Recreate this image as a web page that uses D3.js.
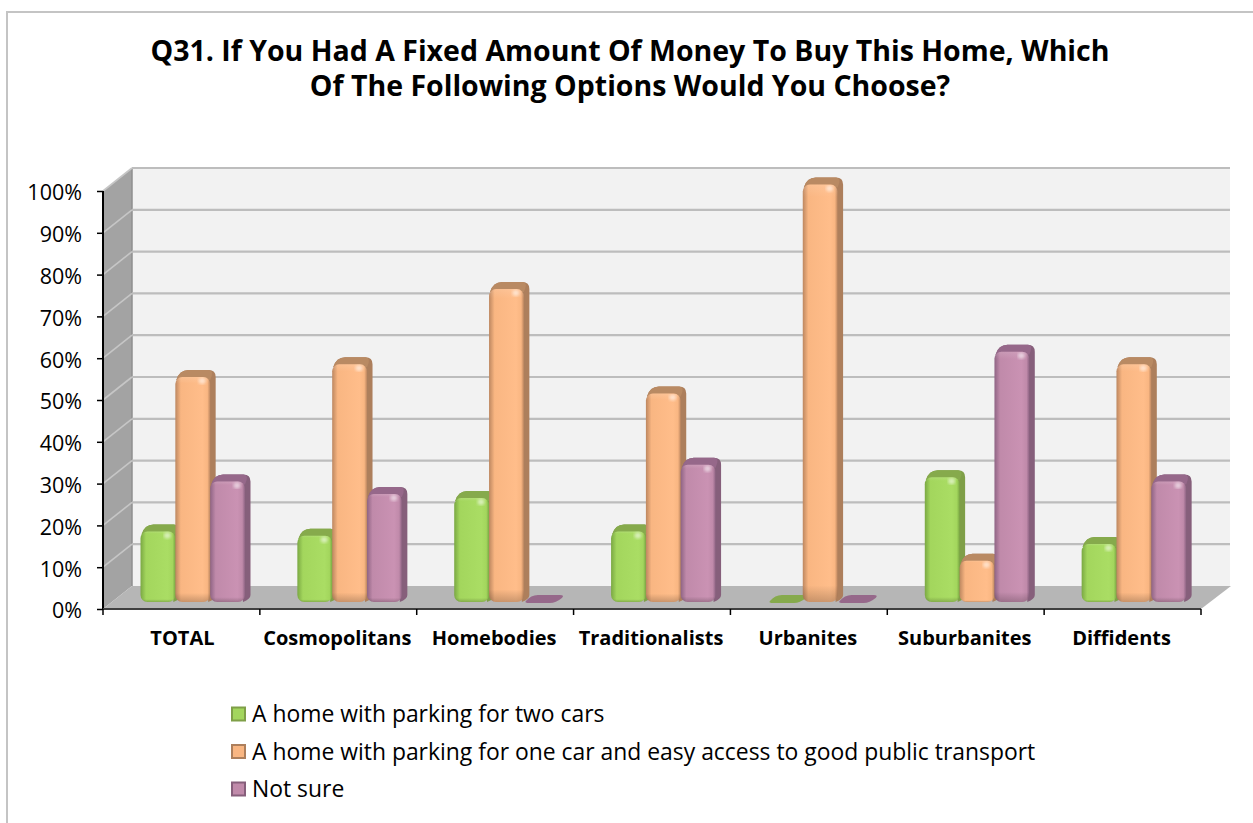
<!DOCTYPE html>
<html><head><meta charset="utf-8">
<script src="https://cdn.jsdelivr.net/npm/d3@7/dist/d3.min.js"></script>
<style>html,body{margin:0;padding:0;background:#fff}svg{display:block}text{font-family:"Open Sans","Noto Sans",sans-serif;fill:#000}</style>
</head><body><svg id="c" width="1253" height="823"></svg>
<script>
const titleLines = ["Q31. If You Had A Fixed Amount Of Money To Buy This Home, Which","Of The Following Options Would You Choose?"];
const categories = ["TOTAL","Cosmopolitans","Homebodies","Traditionalists","Urbanites","Suburbanites","Diffidents"];
const seriesNames = ["A home with parking for two cars","A home with parking for one car and easy access to good public transport","Not sure"];
const twoCars = [17,16,25,17,0,30,14];
const oneCar = [54,57,75,50,100,10,57];
const notSure = [29,26,0,33,0,60,29];
const yTicks = [0,10,20,30,40,50,60,70,80,90,100];
const seriesValues = [twoCars, oneCar, notSure];
const palettes = [
  {edge:"#7aa843",mid:"#a3d65d",light:"#aadd64",top:"#86aa4c",side:"#7f9f48"},
  {edge:"#bd8760",mid:"#f9b682",light:"#ffbd8a",top:"#b98a63",side:"#ad7f5c"},
  {edge:"#8f6484",mid:"#c08aaa",light:"#ca92b3",top:"#96688a",side:"#865f7b"}
];
const svg = d3.select("#c");
const defs = svg.append("defs");
palettes.forEach((p,i)=>{
  const g = defs.append("linearGradient").attr("id","g"+i).attr("x1",0).attr("x2",1).attr("y1",0).attr("y2",0);
  [[0,p.edge],[0.16,p.mid],[0.78,p.light],[0.92,p.mid],[1,p.edge]].forEach(s=>g.append("stop").attr("offset",s[0]).attr("stop-color",s[1]));
});
const vg = defs.append("linearGradient").attr("id","shade").attr("gradientUnits","objectBoundingBox").attr("x1",0).attr("x2",0).attr("y1",0).attr("y2",1);
[[0,"#fff",0.12],[0.03,"#fff",0],[0.96,"#000",0],[1,"#000",0.2]].forEach(s=>vg.append("stop").attr("offset",s[0]).attr("stop-color",s[1]).attr("stop-opacity",s[2]));
defs.append("filter").attr("id","blur").append("feGaussianBlur").attr("stdDeviation",1.8);

// frame
svg.append("path").attr("d","M7,823V12H1253").attr("fill","none").attr("stroke","#c4c4c4").attr("stroke-width",2);

// title
svg.append("g").selectAll("text").data(titleLines).join("text")
  .attr("x",630).attr("y",(d,i)=>61+i*35).attr("text-anchor","middle")
  .attr("font-size",28.5).attr("font-weight",700).text(d=>d);

const x0 = d3.scaleBand().domain(categories).range([103,1201]);
const y = d3.scaleLinear().domain([0,100]).range([609,191]);
const x1 = d3.scaleBand().domain([0,1,2]).range([37.5,142]);
const wallDx = 29, wallDy = -23;
const left = 103, right = 1201;

// side wall, back wall, floor
svg.append("path").attr("d",`M${left},${y(0)}L${left},${y(100)}L${left+wallDx},${y(100)+wallDy}L${left+wallDx},${y(0)+wallDy}Z`).attr("fill","#a3a3a3");
svg.append("rect").attr("x",left+wallDx).attr("y",y(100)+wallDy).attr("width",right-left).attr("height",y(0)-y(100)).attr("fill","#f2f2f2");
svg.append("path").attr("d",`M${left},${y(0)}L${right},${y(0)}L${right+wallDx+1},${y(0)+wallDy}L${left+wallDx},${y(0)+wallDy}Z`).attr("fill","#b6b6b6");
svg.append("line").attr("x1",left+wallDx).attr("x2",left+wallDx).attr("y1",y(100)+wallDy).attr("y2",y(0)+wallDy).attr("stroke","#8f8f8f").attr("stroke-width",1.5);

// gridlines
yTicks.filter(t=>t>0).forEach(t=>{
  svg.append("line").attr("x1",left+wallDx).attr("x2",right+wallDx).attr("y1",y(t)+wallDy).attr("y2",y(t)+wallDy).attr("stroke","#bdbdbd").attr("stroke-width",2.2);
  svg.append("line").attr("x1",left).attr("x2",left+wallDx).attr("y1",y(t)).attr("y2",y(t)+wallDy).attr("stroke","#c6c6c6").attr("stroke-width",1.6);
});

// bars
const baseDy = -7, depthX = 5.5, depthY = -7, barW = x1.bandwidth(), r = 7;
const barsG = svg.append("g");
categories.forEach((c,ci)=>{
  seriesValues.forEach((vals,si)=>{
    const v = vals[ci], p = palettes[si];
    const xf = x0(c)+x1(si), g = barsG.append("g");
    if(v===0){
      const yb = y(0)+baseDy-1;
      g.append("path").attr("d",`M${xf+2},${yb}Q${xf+7},${yb-6} ${xf+14},${yb-6}H${xf+36}Q${xf+41},${yb-6} ${xf+38},${yb-3}Q${xf+32},${yb+2} ${xf+26},${yb+2}H${xf+6}Q${xf},${yb+2} ${xf+2},${yb}Z`).attr("fill",si===0?"#86aa4c":"#96688a");
      return;
    }
    const yt = y(v)+baseDy+0.6, yb = y(0)+baseDy, xr = xf+barW;
    // top and side silhouette
    g.append("path").attr("d",`M${xf+1},${yt+3}Q${xf+4},${yt+depthY} ${xf+r+6},${yt+depthY}H${xr+depthX-7}Q${xr+depthX},${yt+depthY} ${xr+depthX},${yt+depthY+7}V${yb+depthY}Q${xr+depthX},${yb+depthY+4} ${xr-2},${yb}L${xr-3},${yt+3}Z`).attr("fill",p.side);
    g.append("path").attr("d",`M${xf+1},${yt+3}Q${xf+4},${yt+depthY} ${xf+r+6},${yt+depthY}H${xr+depthX-7}Q${xr+depthX-1},${yt+depthY} ${xr},${yt+3}Z`).attr("fill",p.top);
    // front face
    g.append("rect").attr("x",xf).attr("y",yt).attr("width",barW).attr("height",yb-yt).attr("rx",r).attr("fill",`url(#g${si})`);
    g.append("rect").attr("x",xf).attr("y",yt).attr("width",barW).attr("height",yb-yt).attr("rx",r).attr("fill","url(#shade)");
    g.append("ellipse").attr("cx",xr-8).attr("cy",yt+4).attr("rx",3.5).attr("ry",3).attr("fill","#fff").attr("opacity",0.55).attr("filter","url(#blur)");
  });
});

// axes
const yAxis = d3.axisLeft(y).tickValues(yTicks).tickFormat(d=>d+"%").tickSize(6).tickPadding(15);
const ya = svg.append("g").attr("transform",`translate(${left},0)`).call(yAxis);
ya.select(".domain").attr("stroke","#000").attr("stroke-width",2).attr("d",`M0,${y(0)}V${y(100)}`);
ya.selectAll(".tick line").attr("stroke","#000").attr("stroke-width",1.5);
ya.selectAll("text").attr("font-size",21.5).attr("font-family",'"Open Sans"').attr("fill","#000").attr("y",2);

const xAxis = d3.axisBottom(x0).tickSize(0).tickPadding(0);
const xa = svg.append("g").attr("transform",`translate(0,${y(0)})`).call(xAxis);
xa.select(".domain").attr("stroke","#404040").attr("stroke-width",2).attr("d",`M${left},0H${right}`);
xa.selectAll(".tick line").remove();
xa.selectAll(".tick text").attr("y",36).attr("dy",0).attr("font-size",20).attr("font-weight",700).attr("font-family",'"Open Sans"').attr("fill","#000").attr("dx",(d,i)=>i===0?1:-1);
[...categories.map(c=>x0(c)),right].forEach(t=>{
  svg.append("line").attr("x1",t).attr("x2",t).attr("y1",y(0)).attr("y2",y(0)+6).attr("stroke","#000").attr("stroke-width",1.5);
});

// legend
const leg = svg.append("g").selectAll("g").data(seriesNames).join("g").attr("transform",(d,i)=>`translate(232,${714+i*37.5})`);
leg.append("rect").attr("x",0).attr("y",-6.5).attr("width",13).attr("height",13).attr("fill",(d,i)=>palettes[i].mid).attr("stroke",(d,i)=>palettes[i].side).attr("stroke-width",2);
leg.append("text").attr("x",20).attr("y",8).attr("font-size",22.9).text(d=>d);
</script></body></html>
